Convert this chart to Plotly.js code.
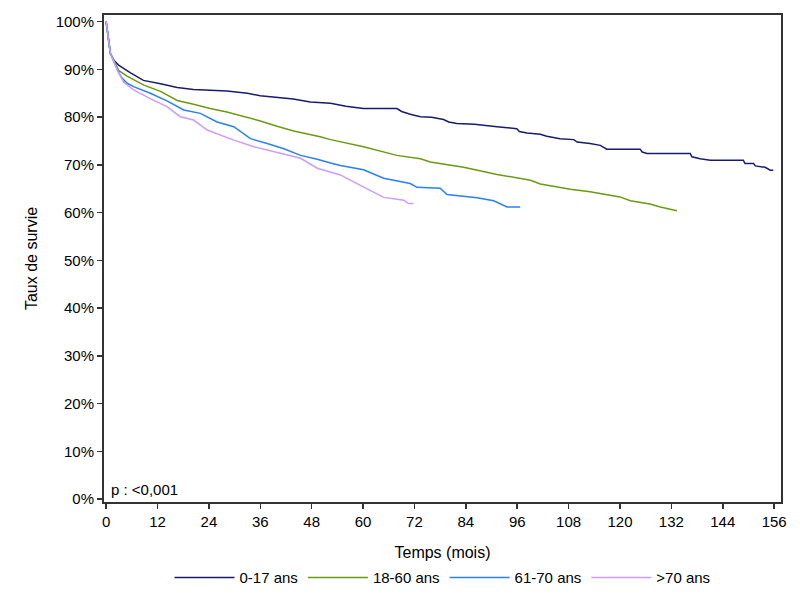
<!DOCTYPE html>
<html>
<head>
<meta charset="utf-8">
<script src="https://cdn.plot.ly/plotly-3.0.1.min.js"></script>
<style>
  body { margin: 0; background: #fff; }
  #chart { width: 800px; height: 600px; }
</style>
</head>
<body>
<div id="chart"></div>
<script>
// survival curves (months, %)
var t017 = [0, 0.6, 1.0, 1.8, 2.9, 5.7, 8.7, 12.7, 16.6, 20.4, 28.2, 33, 36, 43.7, 47.7, 52.4, 56, 60.1, 67.9, 69, 71, 73.4, 76, 78.8, 80, 81.9, 86, 91.3, 94, 95.9, 96.5, 98.3, 101.4, 102.9, 106, 109.2, 110, 113, 115.4, 116.9, 124.7, 125.2, 126.3, 136.4, 136.8, 138.7, 141.1, 148.8, 149.2, 151.2, 151.6, 153.9, 155.1, 155.8];
var s017 = [100, 95.4, 93.3, 91.9, 90.9, 89.3, 87.7, 87.0, 86.2, 85.8, 85.5, 85.0, 84.5, 83.8, 83.2, 82.9, 82.3, 81.8, 81.8, 81.2, 80.6, 80.1, 80.0, 79.5, 79.0, 78.7, 78.5, 78.0, 77.8, 77.6, 77.0, 76.7, 76.4, 76.0, 75.5, 75.3, 74.8, 74.5, 74.1, 73.3, 73.3, 72.7, 72.4, 72.4, 71.7, 71.3, 71.0, 71.0, 70.3, 70.3, 69.8, 69.5, 68.9, 68.9];

var t1860 = [0, 0.6, 1.0, 1.8, 2.9, 4.9, 8.8, 12.7, 16.6, 20.4, 24.3, 28.2, 32.1, 36, 39.9, 43.8, 50, 52.4, 60.1, 67.9, 73.4, 75.7, 83.5, 91.3, 99.1, 101.4, 108.4, 113, 120, 122.4, 127, 129.4, 133.3];
var s1860 = [100, 95.4, 93.3, 91.9, 89.8, 88.6, 86.7, 85.4, 83.5, 82.7, 81.8, 81.1, 80.2, 79.2, 78.1, 77.1, 75.9, 75.3, 73.8, 72.0, 71.3, 70.6, 69.5, 68.0, 66.8, 66.0, 64.9, 64.4, 63.3, 62.5, 61.8, 61.2, 60.4];

var t6170 = [0, 0.6, 1.0, 1.8, 2.9, 3.7, 4.9, 6.4, 10.3, 14.2, 18.1, 22.0, 25.9, 29.8, 33.7, 37.6, 41.5, 45.4, 49.3, 52.4, 54.7, 60.1, 64.8, 71.0, 72.6, 78, 79.6, 86.6, 90.5, 93.6, 96.7];
var s6170 = [100, 95.4, 93.3, 91.6, 89.4, 88.2, 87.1, 86.4, 85.0, 83.4, 81.5, 80.8, 79.0, 78.0, 75.5, 74.5, 73.4, 72.0, 71.2, 70.4, 69.9, 69.0, 67.2, 66.1, 65.3, 65.1, 63.8, 63.1, 62.5, 61.2, 61.2];

var t70 = [0, 0.6, 1.0, 1.8, 2.9, 4.1, 6.4, 10.3, 14.2, 17.3, 20.4, 23.6, 29.8, 34.5, 37.6, 41.5, 45.4, 49.3, 52.4, 54.7, 57.0, 60.1, 64.8, 69.5, 70.6, 71.8];
var s70 = [100, 95.4, 93.3, 91.6, 89.3, 87.3, 85.7, 83.9, 82.2, 80.1, 79.4, 77.3, 75.2, 73.8, 73.1, 72.2, 71.4, 69.3, 68.5, 67.9, 66.8, 65.3, 63.2, 62.6, 61.9, 61.9];

var groupNames = ['0-17 ans', '18-60 ans', '61-70 ans', '>70 ans'];
var groupColors = ['#1a1a72', '#6b9a12', '#2a7fff', '#cc9cff'];
var xTicks = [0, 12, 24, 36, 48, 60, 72, 84, 96, 108, 120, 132, 144, 156];
var yTicks = [0, 10, 20, 30, 40, 50, 60, 70, 80, 90, 100];
var yLabels = yTicks.map(function (v) { return v + '%'; });

var times = [t017, t1860, t6170, t70];
var survs = [s017, s1860, s6170, s70];

var data = [];
for (var i = 0; i < groupNames.length; i++) {
  data.push({
    x: times[i],
    y: survs[i],
    type: 'scatter',
    mode: 'lines',
    name: groupNames[i],
    line: { color: groupColors[i], width: 1.5 }
  });
}

var axisFont = { family: 'Liberation Sans, Arial', size: 15, color: '#000' };
var titleFont = { family: 'Liberation Sans, Arial', size: 16, color: '#000' };

var layout = {
  width: 800,
  height: 600,
  paper_bgcolor: '#fff',
  plot_bgcolor: '#fff',
  margin: { l: 104, r: 19, t: 15, b: 98 },
  font: axisFont,
  showlegend: true,
  legend: {
    orientation: 'h',
    x: 0.5,
    xanchor: 'center',
    yref: 'container',
    y: 0.037,
    yanchor: 'middle',
    font: axisFont,
    itemwidth: 60
  },
  xaxis: {
    range: [-0.5, 157.6],
    tickvals: xTicks,
    ticktext: xTicks.map(String),
    showgrid: false,
    zeroline: false,
    showline: true,
    mirror: true,
    linecolor: '#333',
    linewidth: 2,
    ticks: 'outside',
    ticklen: 5,
    tickwidth: 1.5,
    tickcolor: '#333',
    tickfont: axisFont,
    title: { text: 'Temps (mois)', font: titleFont, standoff: 18 }
  },
  yaxis: {
    range: [-0.6, 101.4],
    tickvals: yTicks,
    ticktext: yLabels,
    showgrid: false,
    zeroline: false,
    showline: true,
    mirror: true,
    linecolor: '#333',
    linewidth: 2,
    ticks: 'outside',
    ticklen: 5,
    tickwidth: 1.5,
    tickcolor: '#333',
    tickfont: axisFont,
    title: { text: 'Taux de survie', font: titleFont, standoff: 14 }
  },
  annotations: [{
    xref: 'paper',
    yref: 'paper',
    x: 0.008,
    y: 0.005,
    xanchor: 'left',
    yanchor: 'bottom',
    text: 'p : <0,001',
    showarrow: false,
    font: axisFont
  }]
};

Plotly.newPlot('chart', data, layout, { displayModeBar: false, staticPlot: true });
</script>
</body>
</html>
